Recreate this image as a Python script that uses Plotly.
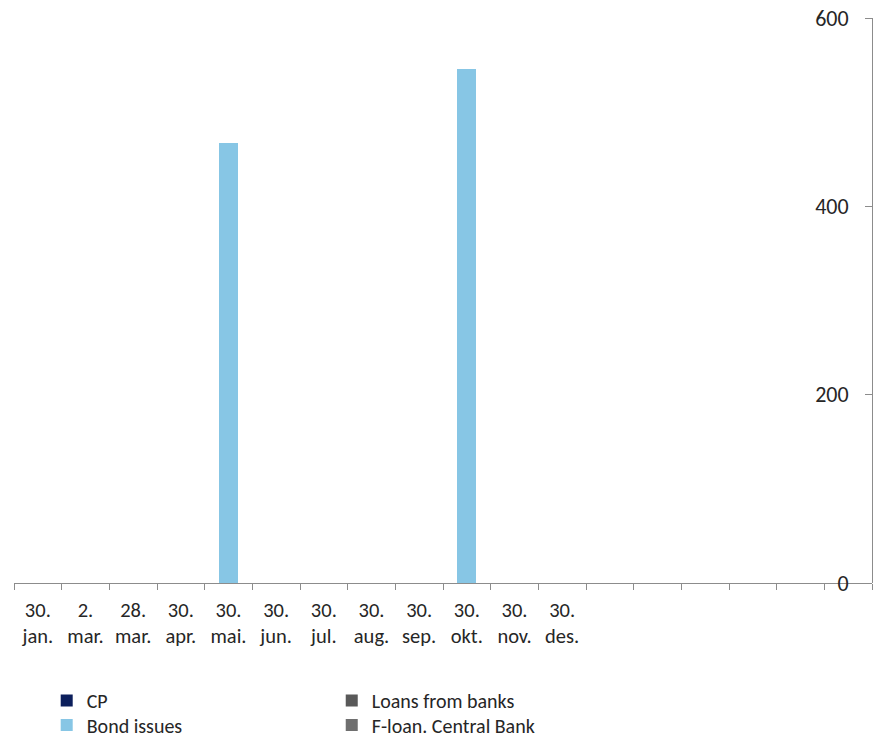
import plotly.graph_objects as go

# Category axis: 12 dated periods followed by 6 unlabelled slots
categories = [
    "30.<br>jan.", "2.<br>mar.", "28.<br>mar.", "30.<br>apr.", "30.<br>mai.",
    "30.<br>jun.", "30.<br>jul.", "30.<br>aug.", "30.<br>sep.", "30.<br>okt.",
    "30.<br>nov.", "30.<br>des.",
    " ", "  ", "   ", "    ", "     ", "      ",
]

cp = [0] * 18
loans_from_banks = [0] * 18
bond_issues = [0, 0, 0, 0, 467, 0, 0, 0, 0, 546, 0, 0, 0, 0, 0, 0, 0, 0]
f_loan_central_bank = [0] * 18

y_ticks = [0, 200, 400, 600]

FONT = "Carlito, Lato, sans-serif"
TEXT = "#262626"
AXIS = "#8c8c8c"

# name, values, colour, legend slot (2 x 2 grid below the chart)
series = [
    ("CP", cp, "#0c1f5c", "legend"),
    ("Loans from banks", loans_from_banks, "#595959", "legend2"),
    ("Bond issues", bond_issues, "#87c6e5", "legend3"),
    ("F-loan. Central Bank", f_loan_central_bank, "#6f6f6f", "legend4"),
]

fig = go.Figure()
for name, vals, color, leg in series:
    fig.add_trace(go.Bar(
        x=categories, y=vals, name=name, legend=leg,
        marker=dict(color=color, line=dict(width=0)),
        width=0.4,
    ))

legend_common = dict(
    xref="container", yref="container", xanchor="left", yanchor="top",
    orientation="v", traceorder="normal", font=dict(size=20, color=TEXT),
    bgcolor="rgba(0,0,0,0)", tracegroupgap=0, itemclick=False,
)

col1, col2 = 0.0535, 0.3800
row1, row2 = 0.0772, 0.0440

fig.update_layout(
    width=873, height=738,
    margin=dict(l=14, r=1, t=18, b=155, autoexpand=False),
    barmode="stack",
    plot_bgcolor="white", paper_bgcolor="white",
    font=dict(family=FONT, size=18, color=TEXT),
    xaxis=dict(
        type="category", categoryorder="array", categoryarray=categories,
        tickson="boundaries", ticks="outside", ticklen=6, tickcolor=AXIS,
        showline=True, linecolor=AXIS, linewidth=1,
        showgrid=False, zeroline=False, ticklabelstandoff=8,
        tickfont=dict(size=20.5, color=TEXT),
    ),
    yaxis=dict(
        side="left", anchor="free", position=1.0,
        range=[0, 600], tickvals=y_ticks,
        ticks="outside", ticklen=7, tickcolor=AXIS,
        ticklabelstandoff=12,
        showline=True, linecolor=AXIS, linewidth=1,
        showgrid=False, zeroline=False,
        tickfont=dict(size=22, color=TEXT),
    ),
    legend=dict(x=col1, y=row1, **legend_common),
    legend2=dict(x=col2, y=row1, **legend_common),
    legend3=dict(x=col1, y=row2, **legend_common),
    legend4=dict(x=col2, y=row2, **legend_common),
    showlegend=True,
)

fig.write_html("out.html")
